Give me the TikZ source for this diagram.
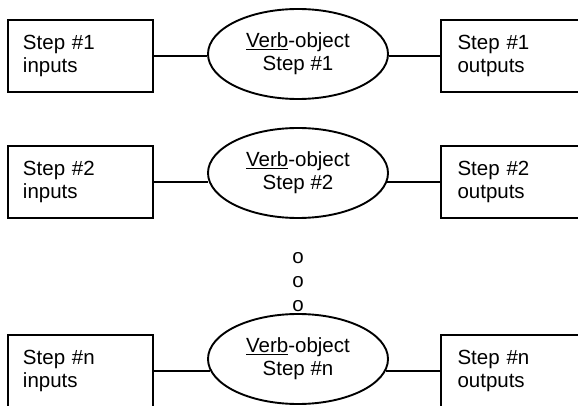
\documentclass[tikz,border=0pt]{standalone}
\usepackage{fontspec}
\setmainfont{Liberation Sans}
\usetikzlibrary{shapes.geometric}
\begin{document}
\begin{tikzpicture}[x=1pt,y=-1pt,
  font=\fontsize{20.5}{23}\selectfont,
  inbox/.style={draw, line width=1.9pt, minimum width=145pt, minimum height=72pt,
    text width=115pt, inner xsep=15pt, inner ysep=0pt, align=left},
  outbox/.style={draw, line width=1.9pt, minimum width=145pt, minimum height=72pt,
    text width=112pt, inner xsep=16.5pt, inner ysep=0pt, align=left},
  verbell/.style={draw, ellipse, line width=1.9pt, minimum width=180pt, minimum height=90pt,
    inner sep=0pt, align=center},
  link/.style={line width=1.9pt},
  dot/.style={inner sep=0pt}]
\useasboundingbox (0,0) rectangle (578,406);

% row 1
\node[inbox]  (l1) at (80.5,56) {Step \#1\\inputs};
\node[verbell] (e1) at (298,54) {\underline{Verb}-object\\Step \#1};
\node[outbox] (r1) at (513.5,56) {Step \#1\\outputs};
\draw[link] (l1.east) -- (l1.east -| e1.181.3);
\draw[link] (r1.west) -- (r1.west -| e1.358.7);

% row 2
\node[inbox]  (l2) at (80.5,182) {Step \#2\\inputs};
\node[verbell] (e2) at (298,173) {\underline{Verb}-object\\Step \#2};
\node[outbox] (r2) at (513.5,182) {Step \#2\\outputs};
\draw[link] (l2.east) -- (l2.east -| e2.185.8);
\draw[link] (r2.west) -- (r2.west -| e2.354.2);

% dots
\node[dot] (d1) at (298,258) {o};
\node[dot] (d2) at (298,282) {o};
\node[dot] (d3) at (298,306) {o};

% row n
\node[inbox]  (l3) at (80.5,371) {Step \#n\\inputs};
\node[verbell] (e3) at (298,359) {\underline{Verb}-object\\Step \#n};
\node[outbox] (r3) at (513.5,371) {Step \#n\\outputs};
\draw[link] (l3.east) -- (l3.east -| e3.187.9);
\draw[link] (r3.west) -- (r3.west -| e3.352.1);
\end{tikzpicture}
\end{document}
